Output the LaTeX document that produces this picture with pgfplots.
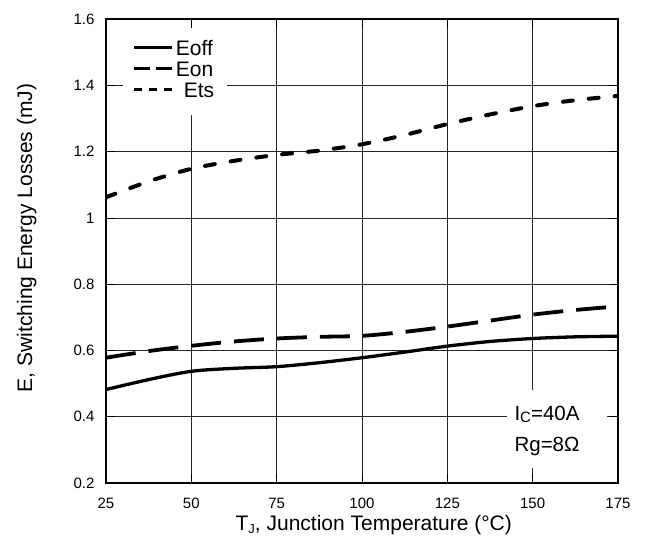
\documentclass[border=0pt]{standalone}
\usepackage{fontspec}
\setmainfont{Liberation Sans}
\usepackage{pgfplots}
\pgfplotsset{compat=1.18}
\begin{document}
\begin{tikzpicture}
\begin{axis}[
  scale only axis, width=512pt, height=464pt,
  xmin=25, xmax=175, ymin=0.2, ymax=1.6,
  xtick={25,50,75,100,125,150,175},
  ytick={0.2,0.4,0.6,0.8,1,1.2,1.4,1.6},
  yticklabels={0.2,0.4,0.6,0.8,1,1.2,1.4,1.6},
  /pgf/number format/assume math mode=true,
  grid=major, major grid style={black!85, line width=0.6pt},
  axis line style={line width=2pt},
  tick align=inside, major tick length=9pt, tick style={black, line width=0.6pt},
  ticklabel style={font=\fontsize{15}{15}\selectfont},
  yticklabel style={xshift=-8pt},
  xticklabel style={yshift=-11.5pt},
  label style={font=\fontsize{21}{21}\selectfont},
  xlabel={T\raisebox{-0.3ex}{\fontsize{13}{13}\selectfont J}, Junction Temperature (°C)},
  ylabel={E, Switching Energy Losses (mJ)},
  xlabel style={at={(axis description cs:0.523,-0.0905)}, anchor=center},
  ylabel style={at={(axis description cs:-0.155,0.528)}, anchor=center},
  legend style={draw=none, fill=white, at={(axis description cs:0.0332,0.9806)}, anchor=north west,
    inner xsep=10pt, inner ysep=13pt, row sep=2.5pt, font=\fontsize{21}{21}\selectfont,
    nodes={inner xsep=2.5pt, inner ysep=0pt, text height=14.5pt, text depth=4pt}},
  legend cell align=left,
]
\addplot[black, line width=3.3pt, smooth, forget plot] coordinates {
(25,0.482) (37.5,0.512) (50,0.537) (62.5,0.546) (75,0.551) (87.5,0.563) (100,0.578)
(112.5,0.595) (125,0.613) (137.5,0.627) (150,0.636) (162.5,0.641) (175,0.643)};
\addplot[black, line width=3.8pt, smooth, dash pattern=on 30pt off 13pt, forget plot] coordinates {
(25,0.578) (37.5,0.598) (50,0.614) (62.5,0.627) (75,0.636) (87.5,0.641) (100,0.644)
(112.5,0.656) (125,0.672) (137.5,0.690) (150,0.708) (162.5,0.722) (175,0.733)};
\addplot[black, line width=4pt, smooth, line cap=round, dash pattern=on 10pt off 16pt, forget plot] coordinates {
(25,1.062) (37.5,1.110) (50,1.148) (62.5,1.172) (75,1.190) (87.5,1.203) (100,1.222)
(112.5,1.250) (125,1.283) (137.5,1.312) (150,1.337) (162.5,1.355) (175,1.368)};
\addlegendimage{legend image code/.code={\draw[black, line width=2.2pt] (0pt,3pt) -- (38pt,3pt);}}
\addlegendentry{Eoff}
\addlegendimage{legend image code/.code={\draw[black, line width=2.2pt, dash pattern=on 16pt off 6pt] (0pt,3pt) -- (38pt,3pt);}}
\addlegendentry{Eon}
\addlegendimage{legend image code/.code={\draw[black, line width=2.2pt, dash pattern=on 8pt off 7pt] (0pt,3pt) -- (38pt,3pt);}}
\addlegendentry{\hspace{8pt}Ets}
\node[fill=white, inner sep=0pt, minimum width=100pt, minimum height=78pt] at (axis cs:157.1,0.363) {};
\node[inner sep=0pt, align=center, font=\fontsize{20.5}{32}\selectfont] at (axis cs:154.2,0.357)
  {I\raisebox{-0.25ex}{\fontsize{15}{15}\selectfont C}=40A\\Rg=8Ω};
\end{axis}
\pgfresetboundingbox
\path[use as bounding box] ([xshift=-106pt,yshift=-64pt]current axis.south west) rectangle ([xshift=27pt,yshift=19pt]current axis.north east);
\end{tikzpicture}
\end{document}
